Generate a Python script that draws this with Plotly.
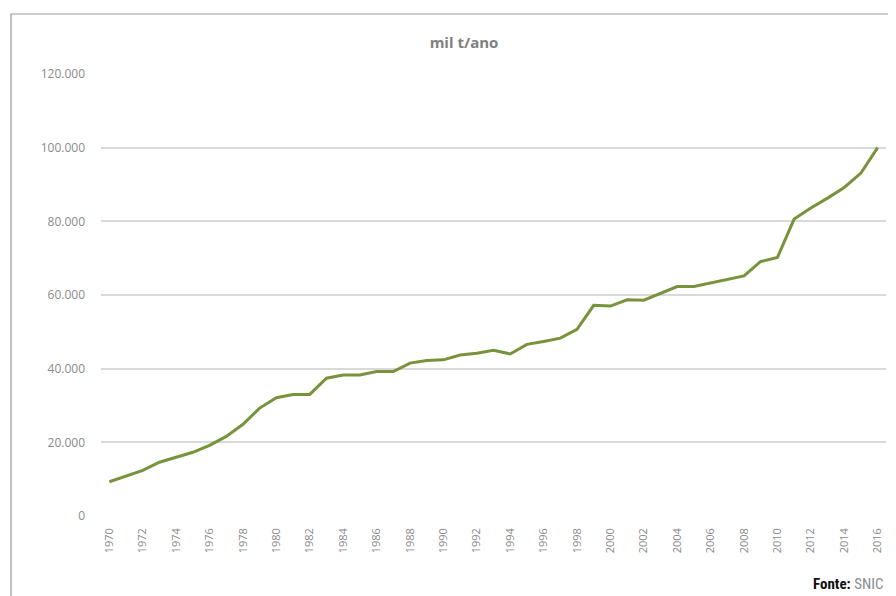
import plotly.graph_objects as go

years = list(range(1970, 2017))
production = [9300, 10800, 12400, 14600, 15900, 17300, 19200, 21600, 24900, 29300,
              32100, 33000, 33000, 37400, 38300, 38300, 39200, 39200, 41500, 42200,
              42400, 43700, 44200, 45000, 44000, 46600, 47400, 48300, 50700, 57200,
              57000, 58700, 58600, 60500, 62300, 62300, 63200, 64100, 65200, 69100,
              70200, 80600, 83600, 86300, 89200, 93100, 100000]
x_ticks = [str(y) for y in range(1970, 2017, 2)]
y_ticks = [0, 20000, 40000, 60000, 80000, 100000, 120000]

cats = [str(y) for y in years]

# page has an 8px body margin; the figure is placed at (8, 8)
OFF = 8
W, H = 888, 588
# plot area in page pixels: x 101..886, y 74..516
PX0, PX1, PY0, PY1 = 101, 886, 74, 516


def px(x):
    return (x - PX0) / (PX1 - PX0)


def py(y):
    return (PY1 - y) / (PY1 - PY0)


fig = go.Figure()
fig.add_trace(go.Scatter(
    x=cats, y=production, mode="lines",
    line=dict(color="#77933C", width=3),
    hoverinfo="skip", showlegend=False,
))

fig.update_layout(
    width=W, height=H,
    margin=dict(l=PX0 - OFF, r=W - (PX1 - OFF), t=PY0 - OFF, b=H - (PY1 - OFF), pad=0),
    paper_bgcolor="white", plot_bgcolor="white",
    separators=",.",
    font=dict(family="Open Sans, Liberation Sans, sans-serif", color="#808080"),
    title=dict(text="<b>mil t/ano</b>", x=(464 - OFF) / W, xanchor="center",
               y=1 - (43 - OFF) / H, yanchor="middle", yref="container",
               font=dict(size=15, color="#7f7f7f", family="Open Sans, sans-serif")),
    xaxis=dict(type="category", range=[-0.5, len(cats) - 0.5],
               tickmode="array", tickvals=x_ticks, ticktext=x_ticks,
               tickangle=-90, tickfont=dict(size=11, color="#8a8a8a"),
               showgrid=False, zeroline=False, showline=False, ticks="",
               ticklabelstandoff=9),
    yaxis=dict(range=[0, 120000], tickmode="array", tickvals=y_ticks,
               tickformat=",d", tickfont=dict(size=12, color="#8a8a8a"),
               gridcolor="#d9d9d9", gridwidth=1.5, zeroline=False,
               showline=False, ticks="", ticklabelstandoff=15),
    shapes=[dict(type="rect", xref="paper", yref="paper",
                 x0=px(11), x1=px(920), y0=py(640), y1=py(14),
                 line=dict(color="#9a9a9a", width=1.2), fillcolor="rgba(0,0,0,0)",
                 layer="below")],
    annotations=[dict(text="<b>Fonte:</b> <span style='color:#8c8c8c'>SNIC</span>",
                      xref="paper", yref="paper",
                      x=px(886), y=py(584), xanchor="right", yanchor="middle",
                      showarrow=False,
                      font=dict(size=15, color="#111111",
                                family="Liberation Sans Narrow, Roboto Condensed, Liberation Sans, sans-serif"))],
)

fig.write_html("out.html")
